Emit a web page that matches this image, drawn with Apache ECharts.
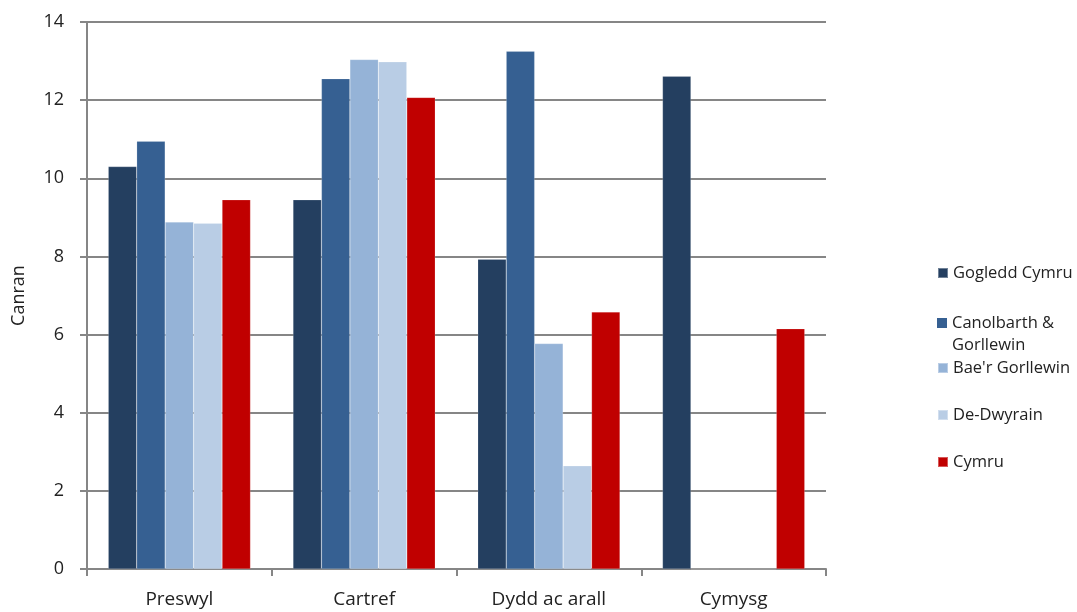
<!DOCTYPE html>
<html>
<head>
<meta charset="utf-8">
<script src="https://cdn.jsdelivr.net/npm/echarts@6/dist/echarts.min.js"></script>
<style>
html,body{margin:0;padding:0;background:#fff;}
#c{width:1077px;height:612px;}
</style>
</head>
<body>
<div id="c"></div>
<script>
const categories = ['Preswyl', 'Cartref', 'Dydd ac arall', 'Cymysg'];
const seriesNames = ['Gogledd Cymru', 'Canolbarth & Gorllewin', "Bae'r Gorllewin", 'De-Dwyrain', 'Cymru'];
const gogleddCymru = [10.3, 9.45, 7.93, 12.61];
const canolbarth = [10.95, 12.55, 13.25, 0];
const baeGorllewin = [8.88, 13.04, 5.77, 0];
const deDwyrain = [8.85, 12.98, 2.64, 0];
const cymru = [9.45, 12.07, 6.58, 6.15];
const yTicks = [0, 2, 4, 6, 8, 10, 12, 14];

const seriesData = [gogleddCymru, canolbarth, baeGorllewin, deDwyrain, cymru];
const colors = ['#243F60', '#366092', '#95B3D7', '#B9CDE5', '#C00000'];
const font = 'Open Sans';
const textColor = '#222';

const chart = echarts.init(document.getElementById('c'), null, {renderer: 'canvas'});

const legendTops = [257, 307, 352, 399, 446];
const legends = seriesNames.map((n, i) => {
  const base = {
    data: [n],
    top: legendTops[i],
    orient: 'vertical',
    icon: 'rect',
    itemWidth: 10,
    itemHeight: 10,
    selectedMode: false,
    textStyle: {fontFamily: font, fontSize: 16.5, color: textColor, lineHeight: 22}
  };
  if (n === 'Canolbarth & Gorllewin') {
    return Object.assign(base, {
      left: 917,
      itemStyle: {color: 'rgba(0,0,0,0)', borderWidth: 0},
      formatter: () => '{i|}{t|Canolbarth &}\n{s|Gorllewin}',
      textStyle: {
        fontFamily: font, fontSize: 16.5, color: textColor, lineHeight: 22,
        rich: {
          i: {width: 10, height: 10, backgroundColor: colors[i]},
          t: {fontFamily: font, fontSize: 16.5, color: textColor, lineHeight: 22, padding: [0, 0, 0, 5]},
          s: {fontFamily: font, fontSize: 16.5, color: textColor, lineHeight: 22, padding: [0, 0, 0, 15]}
        }
      }
    });
  }
  return Object.assign(base, {left: 932});
});

chart.setOption({
  animation: false,
  color: colors,
  legend: legends,
  grid: {left: 87, right: 251, top: 22, bottom: 43, containLabel: false},
  xAxis: {
    type: 'category',
    data: categories,
    axisLine: {lineStyle: {color: '#868686', width: 2}},
    axisTick: {show: true, length: 7, lineStyle: {color: '#868686', width: 2}},
    axisLabel: {fontFamily: font, fontSize: 19, color: textColor, margin: 21}
  },
  yAxis: {
    type: 'value',
    min: yTicks[0],
    max: yTicks[yTicks.length - 1],
    interval: 2,
    name: 'Canran',
    nameLocation: 'middle',
    nameGap: 59,
    nameTextStyle: {fontFamily: font, fontSize: 18, color: textColor},
    axisLine: {show: true, lineStyle: {color: '#868686', width: 2}},
    axisTick: {show: true, length: 7, lineStyle: {color: '#868686', width: 2}},
    axisLabel: {fontFamily: font, fontSize: 18, color: textColor, margin: 23},
    splitLine: {lineStyle: {color: '#868686', width: 2}}
  },
  series: seriesNames.map((n, i) => ({
    name: n,
    type: 'bar',
    data: seriesData[i],
    barGap: '0%',
    barCategoryGap: '23%',
    itemStyle: {color: colors[i], borderColor: 'rgba(255,255,255,0.35)', borderWidth: 0.5}
  }))
});
</script>
</body>
</html>
